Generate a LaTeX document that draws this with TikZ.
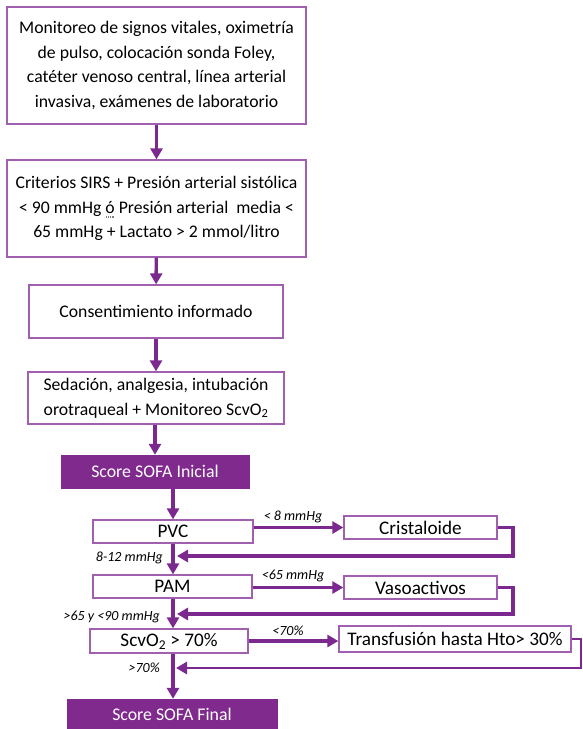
\documentclass[tikz,border=0pt]{standalone}
\usepackage{fontspec}
\setmainfont{Carlito}
\usetikzlibrary{arrows.meta,calc}
\definecolor{arrowpurple}{RGB}{123,41,142}
\definecolor{borderpurple}{RGB}{160,95,175}
\definecolor{fillpurple}{RGB}{128,42,142}
\newcommand{\myspellu}[1]{{\setbox0\hbox{#1}\rlap{\raisebox{-3.5pt}{\hbox to \wd0{\color{gray}\xleaders\hbox to 1.6pt{\hss\rule{0.8pt}{0.8pt}\hss}\hfill}}}\rlap{\raisebox{-5pt}{\hbox to \wd0{\color{gray}\xleaders\hbox to 1.6pt{\hss\rule{0.8pt}{0.8pt}\hss}\hfill}}}#1}}
\tikzset{
  box/.style={draw=borderpurple, line width=1.3pt, fill=white, inner sep=0pt, align=center,
    font=\fontsize{19.2}{24.7}\selectfont},
  bigbox/.style={box, font=\fontsize{17.7}{24.7}\selectfont},
  sofabox/.style={fill=fillpurple, draw=fillpurple, inner sep=0pt, text=white,
    font=\fontsize{17.8}{20}\selectfont},
  flow/.style={draw=arrowpurple, line width=3.4pt, -{Triangle[width=12pt,length=11pt]}},
  back/.style={draw=arrowpurple, line width=3.4pt, -{Triangle[width=12pt,length=11pt]}},
  lbl/.style={inner sep=0pt, font=\fontsize{14}{16}\selectfont\itshape},
}
\begin{document}
\begin{tikzpicture}[x=1pt,y=-1pt]
\useasboundingbox (0,0) rectangle (583,729);
% main column boxes
\node[bigbox, minimum width=299pt, minimum height=117pt] (b1) at (156.5,65.5)
  {Monitoreo de signos vitales, oximetría\\de pulso, colocación sonda Foley,\\catéter venoso central, línea arterial\\invasiva, exámenes de laboratorio};
\node[bigbox, minimum width=299pt, minimum height=97pt] (b2) at (156.5,208.5)
  {Criterios SIRS + Presión arterial sistólica\\< 90 mmHg \myspellu{ó} Presión arterial\ \ media <\\65 mmHg + Lactato > 2 mmol/litro};
\node[bigbox, minimum width=254pt, minimum height=53pt] (b3) at (156,311.5)
  {Consentimiento informado};
\node[bigbox, minimum width=256pt, minimum height=52pt] (b4) at (156,398)
  {Sedación, analgesia, intubación\\orotraqueal + Monitoreo ScvO\textsubscript{2}};
\node[sofabox, minimum width=188pt, minimum height=33pt] (s1) at (155,471.5)
  {Score SOFA Inicial};
% decision column
\node[box, minimum width=160pt, minimum height=23pt] (pvc) at (173,531.5) {PVC};
\node[box, minimum width=153pt, minimum height=23pt] (cri) at (420.5,527.5) {Cristaloide};
\node[box, minimum width=159pt, minimum height=23pt] (pam) at (172.5,586.5) {PAM};
\node[box, minimum width=153pt, minimum height=23pt] (vas) at (420.5,587.5) {Vasoactivos};
\node[box, minimum width=158pt, minimum height=24pt] (scv) at (169,641) {ScvO\textsubscript{2} > 70\%};
\node[box, minimum width=232pt, minimum height=26pt] (tra) at (455,639) {Transfusión hasta Hto> 30\%};
\node[sofabox, minimum width=210pt, minimum height=30pt] (s2) at (172,714)
  {Score SOFA Final};
% main arrows
\draw[flow] (b1) -- (b2);
\draw[flow] (b2) -- (b3);
\draw[flow] (b3) -- (b4);
\draw[flow] (b4.south -| s1.north) -- (s1.north);
\draw[flow] (s1.south -| pvc.north) -- (pvc.north);
\draw[flow] (pvc.south) -- (pam.north -| pvc.south);
\draw[flow] (pam.south -| pvc.south) -- (scv.north -| pvc.south);
\draw[flow] (scv.south -| pvc.south) -- (s2.north -| pvc.south);
% side arrows
\draw[flow] (pvc.east |- cri.west) -- (cri.west);
\draw[flow] (pam.east |- vas.west) -- (vas.west);
\draw[flow] (scv.east) -- (scv.east -| tra.west);
% return loops
\coordinate (c1) at (513,556);
\coordinate (j1) at (177,556);
\coordinate (c2) at (513,614);
\coordinate (j2) at (177,614);
\coordinate (c3) at (581,668);
\coordinate (j3) at (176,668);
\draw[back] (cri.east) -| (c1) -- (j1);
\draw[back] (vas.east) -| (c2) -- (j2);
\draw[back, line width=2.8pt] (tra.east) -| (c3) -- (j3);
% labels
\node[lbl] (l1) at (293,517) {< 8 mmHg};
\node[lbl] (l2) at (293,576) {<65 mmHg};
\node[lbl] (l3) at (288,631) {<70\%};
\node[lbl, anchor=east] (l4) at (163,558) {8-12 mmHg};
\node[lbl, anchor=east] (l5) at (160,617) {>65 y <90 mmHg};
\node[lbl, anchor=east] (l6) at (160,668) {>70\%};
\end{tikzpicture}
\end{document}
